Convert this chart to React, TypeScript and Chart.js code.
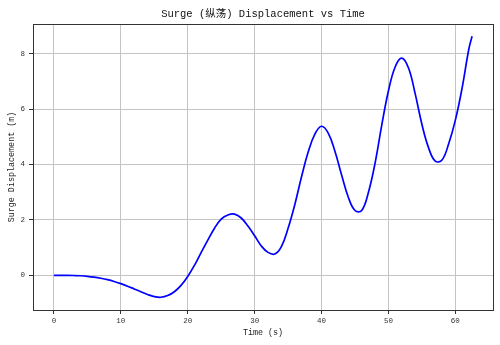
import React, { useEffect, useRef } from "react";
import { Chart, registerables } from "chart.js";

Chart.register(...registerables);

const titleText = "Surge (纵荡) Displacement vs Time";
const xLabel = "Time (s)";
const yLabel = "Surge Displacement (m)";

const timeValues = [
  0, 1, 2, 3, 4, 5, 6, 7, 8, 9, 10, 11, 12, 13, 14, 15, 16, 17, 18, 19, 20, 21,
  22, 23, 24, 25, 26, 27, 28, 29, 30, 31, 32, 33, 34, 35, 36, 37, 38, 39, 40, 41,
  42, 43, 44, 45, 46, 47, 48, 49, 50, 51, 52, 53, 54, 55, 56, 57, 58, 59, 60, 61,
  62, 62.5,
];
const surgeValues = [
  0, 0, 0, -0.005, -0.015, -0.035, -0.065, -0.105, -0.155, -0.22, -0.3, -0.39,
  -0.49, -0.59, -0.69, -0.765, -0.79, -0.73, -0.59, -0.36, -0.04, 0.36, 0.82,
  1.27, 1.7, 2.03, 2.18, 2.21, 2.07, 1.78, 1.43, 1.06, 0.83, 0.77, 1.04, 1.7,
  2.55, 3.55, 4.45, 5.1, 5.38, 5.13, 4.48, 3.62, 2.82, 2.34, 2.34, 2.99, 4.05,
  5.42, 6.66, 7.52, 7.84, 7.48, 6.55, 5.45, 4.6, 4.12, 4.16, 4.75, 5.6, 6.75,
  8.15, 8.63,
];
const xTicks = [0, 10, 20, 30, 40, 50, 60];
const yTicks = [0, 2, 4, 6, 8];

const FONT = "'Liberation Mono', 'Noto Sans CJK SC', monospace";

export default function App() {
  const ref = useRef<HTMLCanvasElement | null>(null);

  useEffect(() => {
    document.body.style.margin = "0";
    const canvas = ref.current;
    if (!canvas) return;

    const framePlugin = {
      id: "frameAndTitle",
      afterDraw(chart: any) {
        const { ctx, chartArea } = chart;
        ctx.save();
        ctx.strokeStyle = "#333333";
        ctx.lineWidth = 1;
        ctx.strokeRect(
          Math.round(chartArea.left) + 0.5,
          Math.round(chartArea.top) + 0.5,
          Math.round(chartArea.right - chartArea.left),
          Math.round(chartArea.bottom - chartArea.top)
        );
        ctx.fillStyle = "#111111";
        ctx.font = `10.5px ${FONT}`;
        ctx.textAlign = "center";
        ctx.textBaseline = "middle";
        ctx.fillText(titleText, (chartArea.left + chartArea.right) / 2, 14);
        ctx.restore();
      },
    };

    const chart = new Chart(canvas, {
      type: "line",
      data: {
        datasets: [
          {
            data: timeValues.map((t, i) => ({ x: t, y: surgeValues[i] })),
            borderColor: "#0000ff",
            borderWidth: 1.7,
            pointRadius: 0,
            fill: false,
            tension: 0.4,
          },
        ],
      },
      options: {
        responsive: false,
        animation: false,
        layout: { padding: { top: 24, right: 7, left: 0, bottom: 0 } },
        plugins: {
          legend: { display: false },
          title: { display: false },
          tooltip: { enabled: false },
        },
        scales: {
          x: {
            type: "linear",
            min: -3.125,
            max: 65.625,
            afterFit: (s: any) => {
              s.height = 35;
            },
            afterBuildTicks: (s: any) => {
              s.ticks = xTicks.map((v) => ({ value: v }));
            },
            grid: {
              color: "#c4c4c4",
              lineWidth: 1,
              tickColor: "#333333",
              tickLength: 4,
            },
            border: { display: true, color: "#333333" },
            ticks: {
              font: { family: FONT, size: 7.5 },
              color: "#333333",
              padding: 3,
              maxRotation: 0,
            },
            title: {
              display: true,
              text: xLabel,
              font: { family: FONT, size: 8.4 },
              color: "#222222",
              padding: { top: 0, bottom: 7 },
            },
          },
          y: {
            type: "linear",
            min: -1.25,
            max: 9.07,
            afterFit: (s: any) => {
              s.width = 33;
            },
            afterBuildTicks: (s: any) => {
              s.ticks = yTicks.map((v) => ({ value: v }));
            },
            grid: {
              color: "#c4c4c4",
              lineWidth: 1,
              tickColor: "#333333",
              tickLength: 4,
            },
            border: { display: true, color: "#333333" },
            ticks: {
              font: { family: FONT, size: 7.5 },
              color: "#333333",
              padding: 4,
            },
            title: {
              display: true,
              text: yLabel,
              font: { family: FONT, size: 8.4 },
              color: "#222222",
              padding: { top: 7, bottom: 0 },
            },
          },
        },
      },
      plugins: [framePlugin],
    } as any);

    return () => {
      chart.destroy();
    };
  }, []);

  return (
    <div style={{ position: "absolute", left: 0, top: 0, width: 500, height: 345 }}>
      <canvas ref={ref} width={500} height={345} style={{ display: "block" }} />
    </div>
  );
}
